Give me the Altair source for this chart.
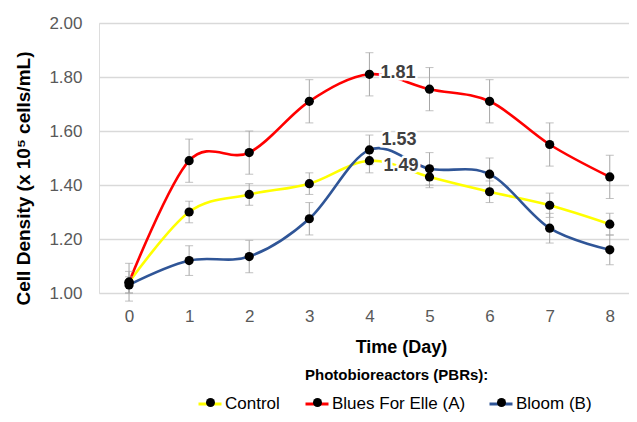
import altair as alt
import pandas as pd

days = [0, 1, 2, 3, 4, 5, 6, 7, 8]
series_names = ["Control", "Blues For Elle (A)", "Bloom (B)"]
series_colors = ["#ffff00", "#ff0000", "#2f5597"]

control = [1.04, 1.30, 1.365, 1.405, 1.49, 1.43, 1.375, 1.325, 1.255]
control_err = [0.04, 0.04, 0.04, 0.04, 0.045, 0.04, 0.04, 0.045, 0.04]
blues = [1.04, 1.49, 1.52, 1.71, 1.81, 1.755, 1.71, 1.55, 1.43]
blues_err = [0.07, 0.08, 0.08, 0.08, 0.08, 0.08, 0.08, 0.08, 0.08]
bloom = [1.03, 1.12, 1.135, 1.275, 1.53, 1.46, 1.44, 1.24, 1.16]
bloom_err = [0.03, 0.055, 0.06, 0.06, 0.055, 0.06, 0.06, 0.055, 0.055]

y_ticks = [1.0, 1.1, 1.2, 1.3, 1.4, 1.5, 1.6, 1.7, 1.8, 1.9, 2.0]
label_days = [4, 4, 4]
label_values = [1.81, 1.53, 1.49]
label_texts = ["1.81", "1.53", "1.49"]

rows = []
for name, vals, errs in zip(series_names, [control, blues, bloom], [control_err, blues_err, bloom_err]):
    for d, v, e in zip(days, vals, errs):
        rows.append({"day": d, "value": v, "lo": v - e, "hi": v + e, "series": name})
df = pd.DataFrame(rows)
lab = pd.DataFrame({"day": label_days, "value": label_values, "text": label_texts})

FONT = "Liberation Sans"

x = alt.X("day:Q", scale=alt.Scale(domain=[-0.5, 8.32], nice=False, zero=False),
          axis=alt.Axis(values=days, format="d", grid=False, domain=False, ticks=False,
                        labelFont=FONT, labelFontSize=17, labelColor="#595959",
                        labelPadding=15, title="Time (Day)", titleFont=FONT,
                        titleFontSize=18, titleFontWeight="bold", titleColor="#000000",
                        titleX=302, titleY=54, titleBaseline="middle", titleAlign="center"))
y = alt.Y("value:Q", scale=alt.Scale(domain=[1.0, 2.0], nice=False, zero=False),
          axis=alt.Axis(values=y_ticks, format=".2f", grid=True, gridColor="#d9d9d9",
                        gridWidth=1.3, domain=False, ticks=False, labelFont=FONT,
                        labelFontSize=17, labelColor="#595959", labelPadding=17,
                        title="Cell Density (x 10⁵ cells/mL)", titleFont=FONT,
                        titleFontSize=19, titleFontWeight="bold", titleColor="#000000",
                        titleX=-76, titleY=155, titleBaseline="middle", titleAlign="center",
                        titleAngle=270))

base = alt.Chart(df)

# legend layout (pixels relative to plot area)
LEG_X = [98, 205, 389]
LINE_LEG_Y = 368
DOT_LEG_Y = 375
TITLE_LEG_Y = 345

line_layers = []
dot_layers = []
for i, (name, col) in enumerate(zip(series_names, series_colors)):
    sub = base.transform_filter(alt.datum.series == name)
    enc_x = x if i == 0 else alt.X("day:Q")
    enc_y = y if i == 0 else alt.Y("value:Q")
    line_layers.append(sub.mark_line(interpolate="cardinal", strokeWidth=2.6).encode(
        x=enc_x, y=enc_y,
        color=alt.Color("series:N", scale=alt.Scale(domain=[name], range=[col]),
                        legend=alt.Legend(orient="none", legendX=LEG_X[i], legendY=LINE_LEG_Y,
                                          direction="horizontal", symbolType="stroke",
                                          symbolSize=529, symbolStrokeWidth=3,
                                          labelOffset=2, padding=0, title=None,
                                          labelFont=FONT, labelFontSize=17,
                                          labelColor="#000000")),
    ))
    dot_layers.append(sub.mark_circle(size=85, opacity=1).encode(
        x="day:Q", y="value:Q",
        color=alt.Color("series:N", scale=alt.Scale(domain=[name], range=["#000000"]),
                        legend=alt.Legend(orient="none", legendX=LEG_X[i] + 9, legendY=DOT_LEG_Y,
                                          direction="horizontal", symbolType="circle",
                                          symbolSize=81, symbolStrokeWidth=0, symbolOpacity=1,
                                          labelExpr="''", labelFontSize=1, labelOffset=0,
                                          padding=0, title=None)),
    ))

err_rule = base.mark_rule(strokeWidth=1).encode(
    x="day:Q", y="lo:Q", y2="hi:Q",
    color=alt.Color("series:N", sort=series_names,
                    scale=alt.Scale(range=["#a6a6a6", "#a6a6a6", "#a6a6a6"]),
                    legend=alt.Legend(orient="none", legendX=206, legendY=TITLE_LEG_Y,
                                      direction="horizontal", symbolOpacity=0, symbolSize=1,
                                      labelExpr="''", labelFontSize=1, padding=0,
                                      title="Photobioreactors (PBRs):", titleFont=FONT,
                                      titleFontSize=15, titleFontWeight="bold",
                                      titleColor="#000000", titleAnchor="start",
                                      titleLimit=400)))
err_top = base.mark_tick(color="#a6a6a6", orient="horizontal", size=8, thickness=1).encode(
    x="day:Q", y="hi:Q")
err_bot = base.mark_tick(color="#a6a6a6", orient="horizontal", size=8, thickness=1).encode(
    x="day:Q", y="lo:Q")

lbase = alt.Chart(lab)
offsets = {"1.81": (11, -1), "1.53": (12, -10), "1.49": (14, 5)}
label_layers = []
for t, (dx, dy) in offsets.items():
    sub = lbase.transform_filter(alt.datum.text == t)
    halo = sub.mark_text(align="left", baseline="middle", dx=dx, dy=dy, font=FONT,
                         fontSize=18, fontWeight="bold", color="white", stroke="white",
                         strokeWidth=5).encode(x="day:Q", y="value:Q", text="text:N")
    txt = sub.mark_text(align="left", baseline="middle", dx=dx, dy=dy, font=FONT,
                        fontSize=18, fontWeight="bold", color="#404040").encode(
        x="day:Q", y="value:Q", text="text:N")
    label_layers += [halo, txt]

chart = alt.layer(*line_layers, err_rule, err_top, err_bot, *dot_layers,
                  *label_layers).resolve_scale(color="independent").properties(
    width=530, height=270,
    autosize=alt.AutoSizeParams(type="none"),
    padding={"left": 91, "top": 15, "right": 0, "bottom": 121},
).configure_view(stroke=None).configure(background="white")

chart.save("out.html", embed_options={"renderer": "svg", "actions": False})
